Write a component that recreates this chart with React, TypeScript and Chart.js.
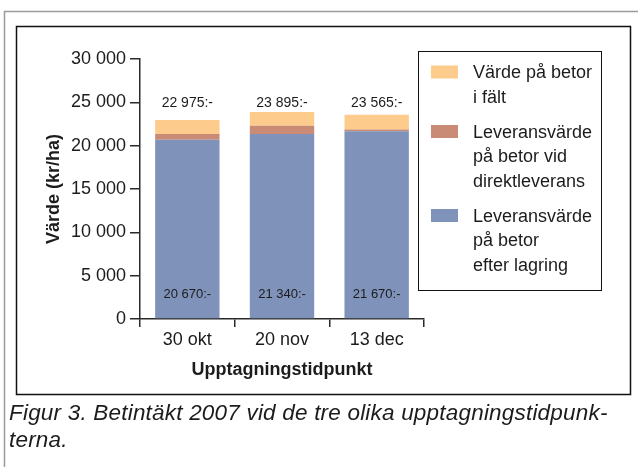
import React, { useEffect, useRef } from "react";
import { Chart, registerables } from "chart.js";

Chart.register(...registerables);

const categories = ["30 okt", "20 nov", "13 dec"];
const afterStorage = [20670, 21340, 21670];
const directDelivery = [680, 960, 190];
const inField = [1625, 1595, 1705];
const totals = [22975, 23895, 23565];
const seriesLabels = [
  ["Leveransvärde", "på betor", "efter lagring"],
  ["Leveransvärde", "på betor vid", "direktleverans"],
  ["Värde på betor", "i fält"],
];
const seriesColors = ["#7f92ba", "#c98b75", "#fdcc8c"];
const yTitle = "Värde (kr/ha)";
const xTitle = "Upptagningstidpunkt";
const caption = ["Figur 3. Betintäkt 2007 vid de tre olika upptagningstidpunk-", "terna."];

const FONT = "'Liberation Sans', Arial, sans-serif";
const TEXT = "#1c1c1c";
const AXIS = "#2a2a2a";

const fmt = (v: number | string) => String(v).replace(/\B(?=(\d{3})+(?!\d))/g, " ");

const framePlugin = {
  id: "frames",
  beforeDraw(chart: any) {
    const ctx = chart.ctx;
    ctx.save();
    ctx.strokeStyle = "#9a9a9a";
    ctx.lineWidth = 1.5;
    ctx.beginPath();
    ctx.moveTo(4.5, 467);
    ctx.lineTo(4.5, 11.5);
    ctx.lineTo(638, 11.5);
    ctx.stroke();
    ctx.strokeStyle = "#111";
    ctx.lineWidth = 1.5;
    ctx.strokeRect(16.5, 26.5, 614, 368);
    ctx.restore();
  },
};

const labelPlugin = {
  id: "valueLabels",
  afterDatasetsDraw(chart: any) {
    const ctx = chart.ctx;
    const meta = chart.getDatasetMeta(0);
    const area = chart.chartArea;
    ctx.save();
    ctx.fillStyle = TEXT;
    ctx.textAlign = "center";
    ctx.textBaseline = "middle";
    meta.data.forEach((bar: any, i: number) => {
      ctx.font = `14px ${FONT}`;
      ctx.fillText(fmt(totals[i]) + ":-", bar.x, area.top + 44);
      ctx.font = `13px ${FONT}`;
      ctx.fillText(fmt(afterStorage[i]) + ":-", bar.x, area.bottom - 25);
    });
    ctx.restore();
  },
};

const legendPlugin = {
  id: "customLegend",
  afterDraw(chart: any) {
    const ctx = chart.ctx;
    ctx.save();
    ctx.strokeStyle = "#111";
    ctx.lineWidth = 1;
    ctx.strokeRect(418.5, 51.5, 183, 239);
    ctx.font = `18px ${FONT}`;
    ctx.textAlign = "left";
    ctx.textBaseline = "alphabetic";
    let y = 78;
    const lh = 24.5;
    const ds = chart.data.datasets;
    for (let d = ds.length - 1; d >= 0; d--) {
      const lines: string[] = ds[d].legendLines;
      ctx.fillStyle = ds[d].backgroundColor;
      ctx.fillRect(431, y - 12.5, 27, 13);
      ctx.fillStyle = TEXT;
      lines.forEach((t, k) => ctx.fillText(t, 473, y + k * lh));
      y += lines.length * lh + 10.5;
    }
    ctx.restore();
  },
};

export default function App() {
  const ref = useRef<HTMLCanvasElement>(null);
  useEffect(() => {
    if (!ref.current) return;
    const seriesData = [afterStorage, directDelivery, inField];
    const chart = new Chart(ref.current, {
      type: "bar",
      data: {
        labels: categories,
        datasets: seriesData.map((d, i) => ({
          label: seriesLabels[i].join(" "),
          legendLines: seriesLabels[i],
          data: d,
          backgroundColor: seriesColors[i],
          borderWidth: 0,
          barPercentage: 0.68,
          categoryPercentage: 1,
        })) as any,
      },
      options: {
        animation: false,
        responsive: false,
        maintainAspectRatio: false,
        layout: { padding: { left: 0, top: 59, right: 214, bottom: 0 } },
        plugins: { legend: { display: false }, tooltip: { enabled: false } },
        scales: {
          x: {
            stacked: true,
            grid: { offset: true, drawOnChartArea: false, tickLength: 8, color: AXIS, lineWidth: 1.5 },
            border: { color: AXIS, width: 1.5 },
            ticks: { font: { family: FONT, size: 18 }, color: TEXT, padding: 2 },
            title: {
              display: true,
              text: xTitle,
              color: TEXT,
              font: { family: FONT, size: 18, weight: "bold" },
              padding: { top: 0, bottom: 86 },
            },
            afterFit: (s: any) => {
              s.height = 148;
            },
          },
          y: {
            stacked: true,
            min: 0,
            max: 30000,
            grid: { drawOnChartArea: false, tickLength: 10, color: AXIS, lineWidth: 1.5 },
            border: { color: AXIS, width: 1.5 },
            ticks: {
              stepSize: 5000,
              padding: 4,
              color: TEXT,
              font: { family: FONT, size: 18 },
              callback: (v: any) => fmt(v),
            },
            title: {
              display: true,
              text: yTitle,
              color: TEXT,
              font: { family: FONT, size: 18, weight: "bold" },
              padding: { top: 43, bottom: 0 },
            },
            afterFit: (s: any) => {
              s.width = 140;
            },
          },
        },
      } as any,
      plugins: [framePlugin, labelPlugin, legendPlugin],
    });
    return () => chart.destroy();
  }, []);

  return (
    <div style={{ position: "absolute", left: 0, top: 0, width: 638, height: 467, background: "#fff" }}>
      <canvas ref={ref} width={638} height={467} style={{ display: "block", width: 638, height: 467 }} />
      <div
        style={{
          position: "absolute",
          left: 9,
          top: 399,
          fontFamily: FONT,
          fontStyle: "italic",
          fontSize: 22.5,
          letterSpacing: "0.2px",
          lineHeight: "27px",
          color: TEXT,
          whiteSpace: "nowrap",
        }}
      >
        {caption.map((c, i) => (
          <div key={i}>{c}</div>
        ))}
      </div>
    </div>
  );
}
